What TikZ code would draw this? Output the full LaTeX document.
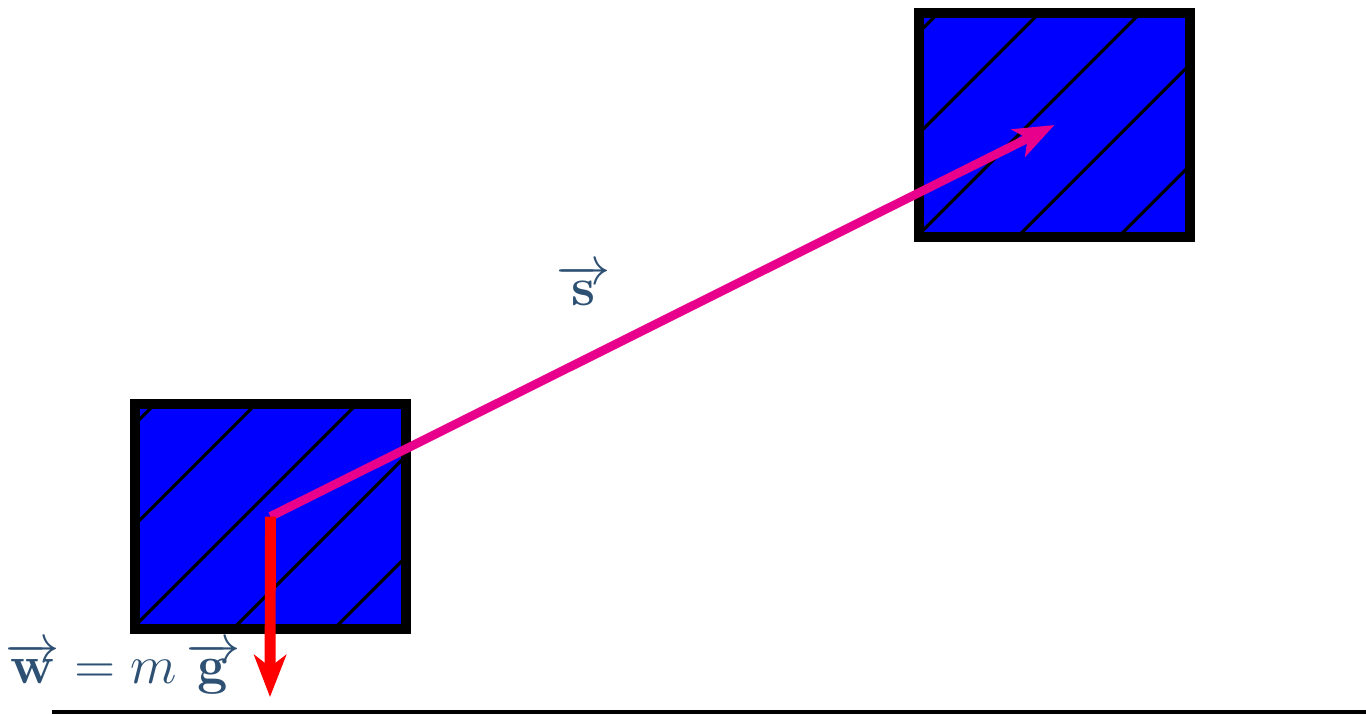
\documentclass[tikz,border=0pt]{standalone}
\usetikzlibrary{arrows.meta, calc}
\definecolor{lblc}{RGB}{45,80,115}
\definecolor{smag}{RGB}{232,0,140}

\begin{document}
\begin{tikzpicture}[x=0.01cm,y=-0.01cm, blk/.style={rectangle,draw=black,fill=blue,line width=1mm,inner sep=0pt,minimum width=2.7cm,minimum height=2.24cm,path picture={\foreach \d in {19,120,...,530}{\draw[line width=0.9pt,black]($(path picture bounding box.north west)+(\d,0)$)--++(-300,300);}}}, sarr/.style={-{Stealth[length=0.4cm,width=0.3cm,inset=0.1cm]},line width=2.5pt,smag}, warr/.style={-{Stealth[length=0.42cm,width=0.32cm,inset=0.12cm]},line width=3.1pt,red}, lbl/.style={text=lblc,font=\Large,scale=1.07,transform shape,anchor=base}]
  \useasboundingbox (0,0) rectangle (1366,714);
  \node[blk](b0) at (270.5,516.5){};
  \node[blk](b1) at (1054.5,125){};
  \coordinate (wtip) at (270,697);
  \coordinate (g0) at (52,712);
  \coordinate (g1) at (1366,712);
  \draw[sarr](b0.center)--(b1.center);
  \draw[warr](b0.center)--(wtip);
  \draw[line width=0.9pt](g0)--(g1);
  \node[lbl](slab) at (584,305){$\overrightarrow{\mathbf{s}}$};
  \node[lbl](wlab) at (123,683){$\overrightarrow{\mathbf{w}} = m\,\overrightarrow{\mathbf{g}}$};
\end{tikzpicture}
\end{document}
